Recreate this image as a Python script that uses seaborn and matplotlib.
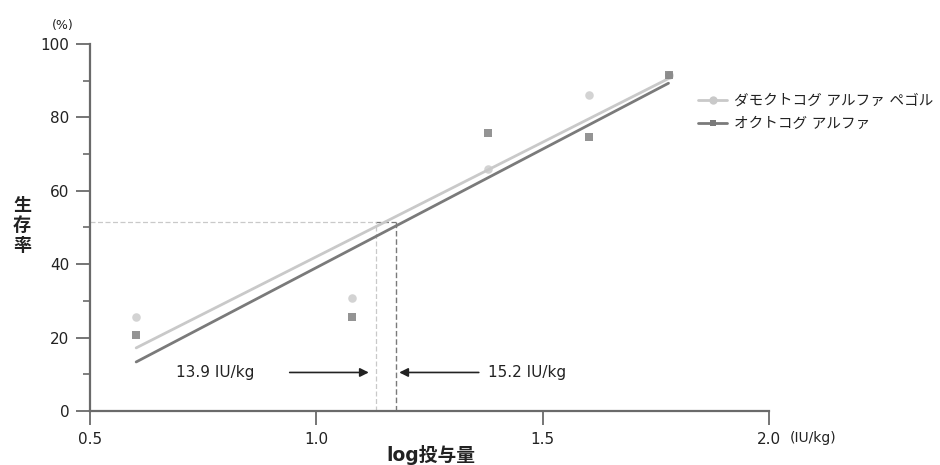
import numpy as np
import pandas as pd
import seaborn as sns
import matplotlib.pyplot as plt
from matplotlib.lines import Line2D
from matplotlib.ticker import MultipleLocator

# Data: log dose (4, 12, 24, 40, 60 IU/kg) and survival rate (%)
log_dose = [0.602, 1.079, 1.380, 1.602, 1.778]
survival_peg = [25.7, 30.9, 66.0, 86.0, 91.5]   # ダモクトコグ アルファ ペゴル
survival_oct = [20.7, 25.7, 75.8, 74.7, 91.5]   # オクトコグ アルファ
series_names = ["ダモクトコグ アルファ ペゴル", "オクトコグ アルファ"]

ed50_level = 51.5
ed50_x = [1.132, 1.175]
ed50_labels = ["13.9 IU/kg", "15.2 IU/kg"]

light = "#c9c9c9"
dark = "#7a7a7a"
axis_col = "#6a6a6a"
text_col = "#222222"

sns.set_style("white")
plt.rcParams["font.family"] = ["DejaVu Sans", "Noto Sans CJK JP"]

fig = plt.figure(figsize=(9.4, 4.65), dpi=100)
ax = fig.add_axes([90 / 940, 1 - 411 / 465, 679 / 940, 367 / 465])

df = pd.DataFrame({"x": log_dose * 2,
                   "y": survival_peg + survival_oct,
                   "drug": [series_names[0]] * 5 + [series_names[1]] * 5})

sns.regplot(data=df[df.drug == series_names[0]], x="x", y="y", ci=None, ax=ax,
            marker="o", color=light,
            scatter_kws={"s": 38, "zorder": 3, "linewidths": 0},
            line_kws={"lw": 2, "zorder": 2})
sns.regplot(data=df[df.drug == series_names[1]], x="x", y="y", ci=None, ax=ax,
            marker="s", color=dark,
            scatter_kws={"s": 28, "zorder": 4, "linewidths": 0},
            line_kws={"lw": 2, "zorder": 2})

# ED50 guides
ax.plot([0.5, ed50_x[0]], [ed50_level, ed50_level], color=light, lw=0.9, ls=(0, (4, 2)), zorder=1)
ax.plot([ed50_x[0], ed50_x[1]], [ed50_level, ed50_level], color=dark, lw=0.9, ls=(0, (4, 2)), zorder=1)
ax.plot([ed50_x[0], ed50_x[0]], [0, ed50_level], color=light, lw=0.9, ls=(0, (4, 2)), zorder=1)
ax.plot([ed50_x[1], ed50_x[1]], [0, ed50_level], color=dark, lw=1.0, ls=(0, (4, 2)), zorder=1)

arrow_y = 10.5
ax.annotate("", xy=(ed50_x[0] - 0.01, arrow_y), xytext=(0.935, arrow_y),
            arrowprops=dict(arrowstyle="-|>", color=text_col, lw=1.2, mutation_scale=13))
ax.annotate("", xy=(ed50_x[1] + 0.002, arrow_y), xytext=(1.365, arrow_y),
            arrowprops=dict(arrowstyle="-|>", color=text_col, lw=1.2, mutation_scale=13))
ax.text(0.776, arrow_y, ed50_labels[0], ha="center", va="center", fontsize=11, color=text_col)
ax.text(1.379, arrow_y, ed50_labels[1], ha="left", va="center", fontsize=11, color=text_col)

ax.set_xlim(0.5, 2.0)
ax.set_ylim(0, 100)
ax.set_xticks([0.5, 1.0, 1.5, 2.0])
ax.set_xticklabels(["0.5", "1.0", "1.5", "2.0"])
ax.yaxis.set_major_locator(MultipleLocator(20))
ax.yaxis.set_minor_locator(MultipleLocator(10))
ax.tick_params(axis="both", which="major", direction="out", length=10, width=1.3,
               color=axis_col, labelsize=11, labelcolor=text_col, pad=5)
ax.tick_params(axis="y", which="minor", direction="out", length=5, width=1.2, color=axis_col)
ax.tick_params(axis="y", which="both", left=True)
ax.tick_params(axis="x", which="both", bottom=True)

for s in ["top", "right"]:
    ax.spines[s].set_visible(False)
for s in ["left", "bottom"]:
    ax.spines[s].set_color(axis_col)
    ax.spines[s].set_linewidth(1.6)

# x label sits at the bottom edge; keep it just inside the canvas
ax.set_xlabel("log投与量", fontsize=13.5, fontweight="bold", color=text_col, va="bottom")
ax.xaxis.set_label_coords(0.502, -0.146)
ax.set_ylabel("生\n存\n率", fontsize=13, fontweight="bold", color=text_col,
              rotation=0, ha="center", va="center", linespacing=1.15)
ax.yaxis.set_label_coords(-0.100, 0.505)

ax.annotate("(%)", xy=(0.5, 100), xytext=(-19.5, 13.5), textcoords="offset points",
            ha="center", va="center", fontsize=9, color=text_col, annotation_clip=False)
ax.annotate("(IU/kg)", xy=(2.0, 0), xytext=(15, -19.5), textcoords="offset points",
            ha="left", va="center", fontsize=10, color=text_col, annotation_clip=False)

handles = [Line2D([], [], color=light, lw=2, marker="o", markersize=6, markeredgewidth=0),
           Line2D([], [], color=dark, lw=2, marker="s", markersize=5, markeredgewidth=0)]
fig.legend(handles, series_names, loc="upper left", bbox_to_anchor=(698 / 940, 1 - 93 / 465),
           frameon=False, fontsize=10.5, handlelength=2.0, handletextpad=0.5,
           labelspacing=0.55, borderpad=0, borderaxespad=0, labelcolor=text_col)

fig.savefig("out.png", dpi=100)
